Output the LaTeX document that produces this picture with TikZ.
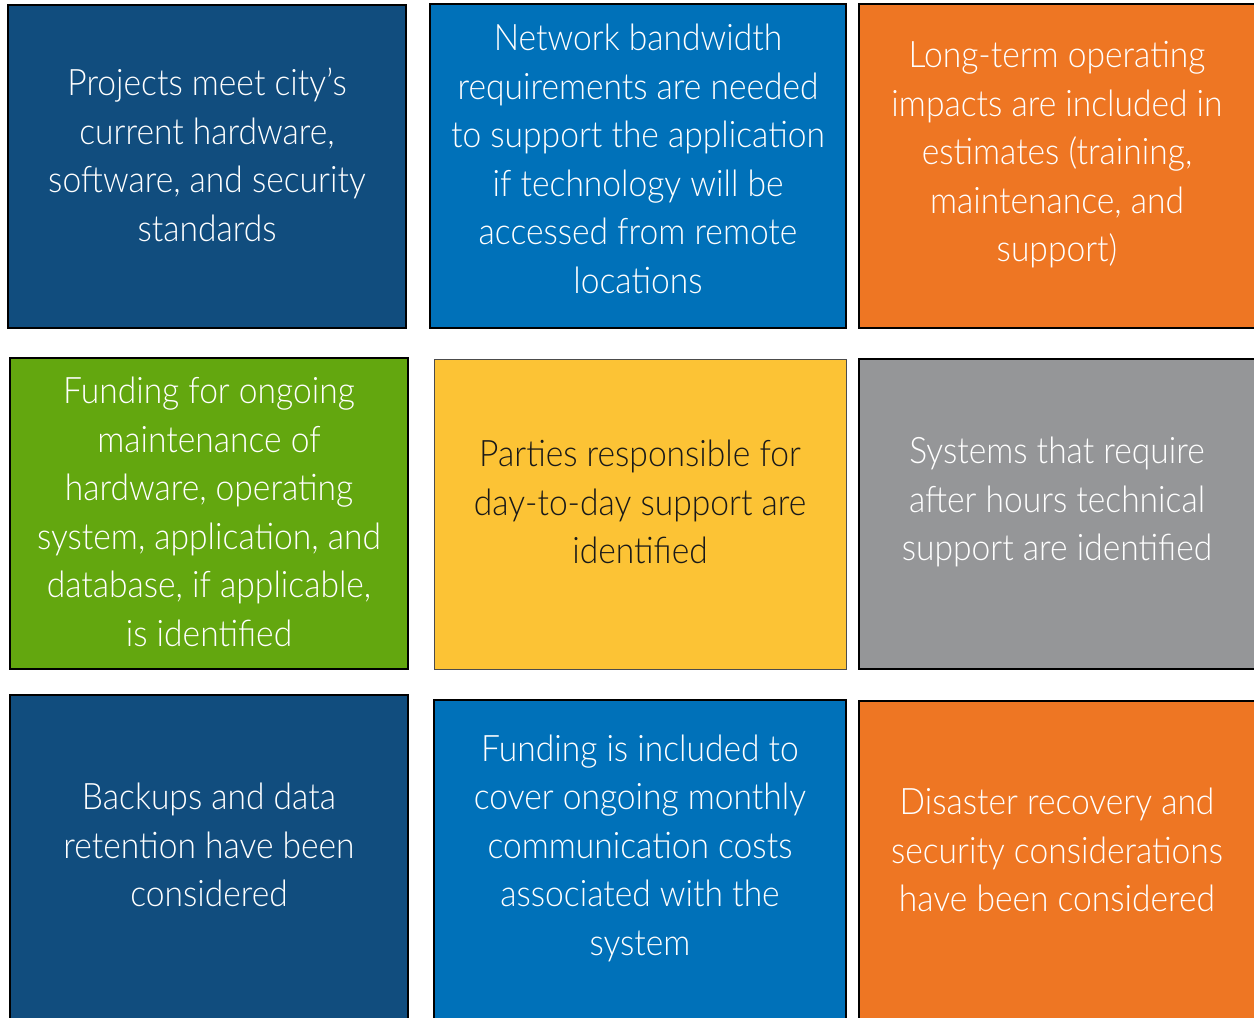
\documentclass[tikz,border=0pt]{standalone}
\usepackage{fontspec}
\setmainfont{Lato}[UprightFont=* Light, FakeStretch=0.92]
\definecolor{cdark}{HTML}{114D7E}
\definecolor{cblue}{HTML}{0071B9}
\definecolor{corange}{HTML}{EE7623}
\definecolor{cgreen}{HTML}{63A70F}
\definecolor{cyellow}{HTML}{FCC335}
\definecolor{cgray}{HTML}{959698}
\tikzset{
  box/.style={draw=black, line width=2.2pt, inner sep=0pt},
  thinbox/.style={draw=black!70, line width=1pt, inner sep=0pt},
  txt/.style={align=center, text=white, inner sep=0pt, font=\fontsize{36.5}{48.5}\selectfont},
  dtxt/.style={txt, text=black!90}
}
\begin{document}
\begin{tikzpicture}[x=1pt,y=-1pt]
\useasboundingbox (0,0) rectangle (1254,1018);
\fill[white] (0,0) rectangle (1254,1018);
% row 1
\draw[box, fill=cdark] (8,5) rectangle (406,328) node[pos=0.5] (b1) {};
\draw[box, fill=cblue] (430,4) rectangle (846,328) node[pos=0.5] (b2) {};
\draw[box, fill=corange] (859,4) rectangle (1280,328) node[pos=0.5] (b3) {};
% row 2
\draw[box, fill=cgreen] (10,358) rectangle (408,669) node[pos=0.5] (b4) {};
\draw[thinbox, fill=cyellow] (434,359) rectangle (846,669) node[pos=0.5] (b5) {};
\draw[box, fill=cgray] (859,359) rectangle (1280,669) node[pos=0.5] (b6) {};
% row 3
\draw[box, fill=cdark] (10,695) rectangle (408,1040) node[pos=0.5] (b7) {};
\draw[box, fill=cblue] (434,700) rectangle (846,1040) node[pos=0.5] (b8) {};
\draw[box, fill=corange] (859,701) rectangle (1280,1040) node[pos=0.5] (b9) {};
% texts
\node[txt] (t1) at (207,155) {Projects meet city’s\\current hardware,\\software, and security\\standards};
\node[txt] (t2) at (638,159) {Network bandwidth\\requirements are needed\\to support the application\\if technology will be\\accessed from remote\\locations};
\node[txt] (t3) at (1057,155) {Long-term operating\\impacts are included in\\estimates (training,\\maintenance, and\\support)};
\node[txt] (t4) at (209,512) {Funding for ongoing\\maintenance of\\hardware, operating\\system, application, and\\database, if applicable,\\is identified};
\node[dtxt] (t5) at (640,502) {Parties responsible for\\day-to-day support are\\identified};
\node[txt] (t6) at (1057,502) {Systems that require\\after hours technical\\support are identified};
\node[txt] (t7) at (209,845) {Backups and data\\retention have been\\considered};
\node[txt] (t8) at (640,848) {Funding is included to\\cover ongoing monthly\\communication costs\\associated with the\\system};
\node[txt] (t9) at (1057,850) {Disaster recovery and\\security considerations\\have been considered};
\end{tikzpicture}
\end{document}
